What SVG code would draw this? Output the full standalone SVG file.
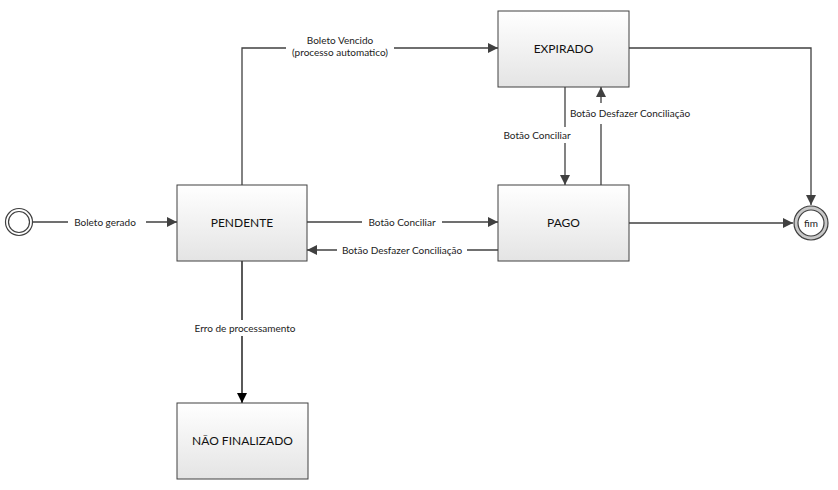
<svg xmlns="http://www.w3.org/2000/svg" width="838" height="490" viewBox="0 0 838 490">
<style>
.box{stroke:#404040;stroke-width:1;fill:url(#g)}
.ln{fill:none;stroke:#404040;stroke-width:1.3}
.lb{font-family:Lato,"Open Sans",sans-serif;font-size:10px;fill:#222}
.bt{font-family:Lato,"Open Sans",sans-serif;font-size:12px;fill:#111;text-anchor:middle}
.bg{fill:#fff}
</style>
<defs>
<linearGradient id="g" x1="0" y1="0" x2="0" y2="1">
<stop offset="0" stop-color="#ffffff"/>
<stop offset="1" stop-color="#e4e4e4"/>
</linearGradient>
<marker id="a" viewBox="0 0 10 10" refX="10" refY="5" markerWidth="10" markerHeight="10" markerUnits="userSpaceOnUse" orient="auto">
<path d="M0,0 L10,5 L0,10 z" fill="#404040"/>
</marker>
<marker id="ab" viewBox="0 0 10 10" refX="10" refY="5" markerWidth="10" markerHeight="10" markerUnits="userSpaceOnUse" orient="auto">
<path d="M0,0 L10,5 L0,10 z" fill="#000"/>
</marker>
</defs>
<g id="connectors">
<path class="ln" d="M33,222 H177" marker-end="url(#a)"/>
<path class="ln" d="M242,185 V48 H498" marker-end="url(#a)"/>
<path class="ln" d="M307,222 H498" marker-end="url(#a)"/>
<path class="ln" d="M498,250 H307" marker-end="url(#a)"/>
<path class="ln" d="M242,261 V403" stroke="#000" style="stroke:#000" marker-end="url(#ab)"/>
<path class="ln" d="M565,87 V185" marker-end="url(#a)"/>
<path class="ln" d="M601,185 V87" marker-end="url(#a)"/>
<path class="ln" d="M629,48 H811 V205" marker-end="url(#a)"/>
<path class="ln" d="M629,223 H793" marker-end="url(#a)"/>
<rect class="bg" x="68" y="214" width="78" height="16"/>
<text class="lb" x="105" y="225.5" text-anchor="middle">Boleto gerado</text>
<rect class="bg" x="286" y="33" width="108" height="26"/>
<text class="lb" x="340" y="44" text-anchor="middle">Boleto Vencido</text>
<text class="lb" x="340" y="56" text-anchor="middle">(processo automatico)</text>
<rect class="bg" x="362" y="214" width="80" height="16"/>
<text class="lb" x="402" y="225.5" text-anchor="middle">Botão Conciliar</text>
<rect class="bg" x="337" y="242" width="130" height="16"/>
<text class="lb" x="402" y="253.5" text-anchor="middle">Botão Desfazer Conciliação</text>
<rect class="bg" x="190" y="320" width="110" height="16"/>
<text class="lb" x="245" y="331.5" text-anchor="middle">Erro de processamento</text>
<rect class="bg" x="500" y="127" width="76" height="16"/>
<text class="lb" x="537" y="138.5" text-anchor="middle">Botão Conciliar</text>
<rect class="bg" x="566" y="103" width="126" height="21"/>
<text class="lb" x="630" y="116.5" text-anchor="middle">Botão Desfazer Conciliação</text>
</g>
<g id="start">
<circle cx="19" cy="222" r="13.5" fill="#fff" stroke="#404040" stroke-width="1.2"/>
<circle cx="19" cy="222" r="10.5" fill="#fff" stroke="#404040" stroke-width="1.2"/>
</g>
<g id="pendente">
<rect class="box" x="177" y="185" width="130" height="76"/>
<text class="bt" x="242" y="227">PENDENTE</text>
</g>
<g id="expirado">
<rect class="box" x="498" y="11" width="131" height="76"/>
<text class="bt" x="563.5" y="53">EXPIRADO</text>
</g>
<g id="pago">
<rect class="box" x="498" y="185" width="131" height="76"/>
<text class="bt" x="563.5" y="227">PAGO</text>
</g>
<g id="naofinalizado">
<rect class="box" x="177" y="403" width="131" height="76"/>
<text class="bt" x="242.5" y="445">NÃO FINALIZADO</text>
</g>
<g id="fim">
<circle cx="811" cy="223" r="17" fill="#c8c8c8" stroke="#404040" stroke-width="1.2"/>
<circle cx="811" cy="223" r="13" fill="#fff" stroke="#404040" stroke-width="1.2"/>
<text class="lb" x="811" y="226.5" text-anchor="middle">fim</text>
</g>
</svg>
